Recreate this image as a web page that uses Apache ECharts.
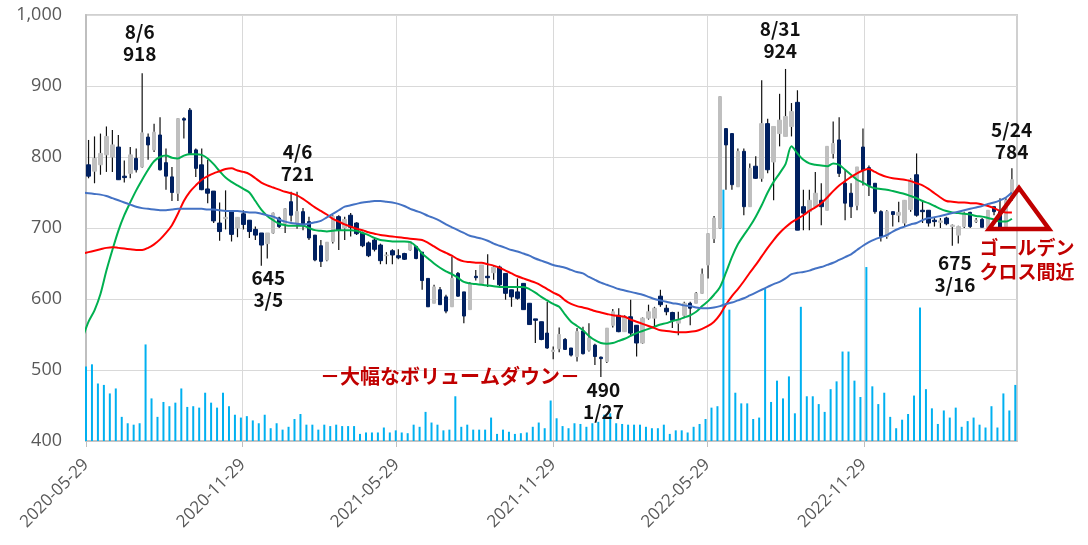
<!DOCTYPE html>
<html><head><meta charset="utf-8">
<script src="https://cdn.jsdelivr.net/npm/echarts@6/dist/echarts.min.js"></script>
<style>html,body{margin:0;padding:0;background:#fff}#c{width:1088px;height:545px}</style>
</head><body><div id="c"></div>
<script>
// ---------- data ----------
const firstCandleMonday = '2020-06-01';   // weekly candles (week start)
const firstVolumeFriday = '2020-05-29';   // weekly volume (week end)
const firstMaMonday = '2020-05-25';       // moving averages (weekly)
const axisStart = '2020-05-29';
const axisEnd = '2023-05-28';
const tickLabels = ['2020-05-29','2020-11-29','2021-05-29','2021-11-29','2022-05-29','2022-11-29'];

const opens = [789,780,789,803,800,814,773,777,798,786, 828,810,831,792,772,749,854,866,810,789,
 755,752,707,713,723,700,720,711,698,693, 678,693,714,706,737,706,723,709,690,675,
 655,681,716,700,718,707,693,679,683,676, 661,668,661,664,669,674,666,629,594,613,
 603,589,636,610,585,632,622,632,637,645, 636,613,610,622,594,572,568,552,526,530,
 543,531,519,555,528,535,518,512,563,577, 554,575,563,538,573,573,604,587,581,566,
 577,594,594,608,648,685,700,840,833,758, 808,730,787,770,847,793,833,829,843,877,
 730,723,730,739,725,805,824,763,749,732, 814,785,763,723,688,723,718,707,726,775,
 725,725,711,708,714,702,690,702,722,709, 712,700,730,723,702,742];
const closes = [773,798,805,829,817,768,771,803,782,834, 817,835,782,773,750,854,852,805,784,754,
 749,710,695,715,691,715,705,695,690,676, 693,721,702,727,718,723,706,686,655,653,
 680,716,697,712,701,692,675,661,670,654, 662,662,658,656,681,657,626,589,617,592,
 583,629,604,576,622,630,648,630,645,620, 608,603,601,585,564,570,543,531,528,550,
 529,521,554,523,545,519,516,559,582,554, 575,552,538,573,582,587,592,582,570,571,
 594,587,608,635,692,714,885,817,761,808, 730,784,770,847,782,843,852,857,864,697,
 721,739,749,730,815,819,777,735,730,786, 781,760,723,688,723,719,722,739,768,718,
 723,707,709,710,706,704,702,721,702,711, 701,725,723,700,739,768];
const lows = [770,763,775,779,779,768,764,770,778,785, 796,807,781,754,738,738,826,804,772,753,
 735,707,682,698,681,687,698,686,683,647, 657,692,700,693,709,699,697,683,653,645,
 653,678,669,683,688,690,673,659,667,649, 649,649,656,655,668,656,613,589,594,592,
 580,589,603,566,585,626,622,617,627,618, 599,589,599,585,564,538,542,530,515,525,
 528,519,512,522,526,507,490,510,560,553, 554,549,519,537,571,561,589,577,559,549,
 575,563,594,607,629,679,699,754,754,758, 718,730,769,765,777,739,815,829,829,697,
 697,697,728,704,725,798,772,711,714,725, 760,745,720,681,685,702,708,702,723,716,
 707,702,702,700,704,675,678,700,700,707, 701,697,718,700,702,738];
const highs = [824,829,833,843,838,831,795,814,812,918, 833,847,856,812,786,855,856,869,812,812,
 796,752,736,753,723,715,725,711,702,693, 693,722,716,728,751,751,728,716,690,683,
 680,718,718,716,721,708,695,681,686,678, 666,670,670,665,681,674,666,629,620,617,
 606,660,638,610,624,641,648,663,647,647, 636,613,629,622,594,572,568,596,533,560,
 545,531,559,561,566,537,519,559,586,587, 577,599,563,574,592,589,613,592,582,582,
 596,596,610,643,693,717,886,840,833,812, 812,791,801,908,854,843,889,924,876,894,
 754,754,779,763,815,850,856,782,763,786, 840,788,763,725,725,723,737,739,770,805,
 739,725,714,714,716,705,703,723,723,714, 714,725,730,742,742,784];

const volumes = [105,108,81,79,67,74,34,25,23,25, 136,60,34,55,49,54,74,48,49,47,
 68,54,47,68,49,37,33,35, 29,25,37,18,25,16,20,31,38,23,
 23,16,23,21,23,21,21,21,10,12, 12,12,19,12,
 15,12,11,23,20,41,26,23,15,16, 63,20,23,16,16,16,33,10,16,13,
 10,11,12,20,26,18, 57,32,21,18,25,24,20,25,27,37,
 39,25,24,23,23,23,20,18,18,23, 10,15,15,12,20,24,
 31,47,49,354,185,68,53,53,31,33, 214,55,85,60,91,39,189,63,63,52,
 41,73,84,126,126,85, 62,245,77,52,68,34,18,30,38,64,
 188,73,46,24,43,33,47,20,28,33, 23,19,49,19,67,43,79];

const maShort = [545,568,584,607,640,669,696,718,736,753, 768,782,794,800,802,799,798,802,804,804,
 803,798,790,780,771,765,760,755,750,738, 726,717,711,706,704,703,703,703,700,697,
 696,695,696,697,697,697,696,693,690,686, 683,682,681,681,681,680,674,664,657,650,
 644,639,635,630,624,622,621,620,619,618, 617,617,617,617,617,614,609,603,598,593,
 589,578,568,562,556,548,542,538,537,538, 541,544,548,552,555,558,561,564,566,569,
 571,574,577,582,590,597,606,617,637,659, 677,690,702,716,732,750,765,777,790,815,
 805,796,791,789,788,787,791,789,782,775, 768,764,759,756,755,754,752,750,748,745,
 742,738,735,731,727,724,722,721,720,719, 717,716,714,712,709,709,713];
const maMid = [664,666,668,670,672,673,672,671,670,669, 669,672,677,684,693,704,720,738,751,760,
 768,773,777,780,783,784,781,779,776,770, 764,760,757,754,751,749,746,741,735,729,
 724,719,713,709,705,702,699,697,694,692, 690,689,688,687,686,685,684,683,679,674,
 669,665,661,656,653,652,651,651,649,647, 644,640,636,632,629,626,623,619,614,609,
 605,598,593,590,588,586,583,581,579,577, 576,575,571,568,565,562,559,556,555,554,
 553,553,554,555,558,562,568,578,592,604, 614,625,637,648,660,672,683,693,701,708,
 713,718,724,729,735,743,752,760,766,772, 777,781,783,779,775,772,770,769,768,766,
 763,760,755,749,743,738,737,736,736,735, 735,733,731,728,724,722,722];
const maLong = [750,749,748,747,745,742,739,736,733,730, 728,727,726,725,725,726,727,727,727,727,
 727,726,726,725,724,724,724,723,722,722, 720,718,716,712,709,707,706,705,706,708,
 710,715,720,725,730,732,734,736,737,738, 738,737,736,734,731,727,724,721,717,714,
 710,705,701,697,693,689,687,685,682,678, 675,672,669,667,664,661,657,654,651,648,
 646,644,641,638,636,631,627,623,620,617, 614,612,610,608,606,603,600,598,596,594,
 593,591,590,588,587,587,588,590,593,595, 598,601,605,609,613,617,621,624,629,635,
 637,638,640,643,645,648,651,655,659,663, 669,675,680,684,687,690,695,699,702,705,
 707,711,714,715,717,719,721,723,725,727, 729,731,734,736,739,743,750];

const annotDates = ['2020-08-06','2021-04-06','2021-03-05','2022-01-27','2022-08-31','2023-03-16','2023-05-24'];
const annotValues = [918,721,645,490,924,675,784];
const annotTexts = ['8/6\n918','4/6\n721','645\n3/5','490\n1/27','8/31\n924','675\n3/16','5/24\n784'];
const noteVolume = '－大幅なボリュームダウン－';
const noteCross = 'ゴールデン\nクロス間近';

// ---------- helpers ----------
function ts(s){const p=s.split('-').map(Number);return new Date(p[0],p[1]-1,p[2]).getTime();}
function weekly(s,count){const p=s.split('-').map(Number);const r=[];for(let i=0;i<count;i++)r.push(new Date(p[0],p[1]-1,p[2]+7*i).getTime());return r;}
function pad(n){return (n<10?'0':'')+n;}
function fmt(v){const d=new Date(v);return d.getFullYear()+'-'+pad(d.getMonth()+1)+'-'+pad(d.getDate());}

const candleT = weekly(firstCandleMonday, opens.length);
const volT = weekly(firstVolumeFriday, volumes.length);
const maT = weekly(firstMaMonday, maShort.length);
const tickT = tickLabels.map(ts);

// label offsets (layout only)
const annotOffsets = [[-5,-30],[-54,-50],[-56,22],[0,24],[-7,-29],[0,28],[-2,-28]];

const JP = '"Noto Sans CJK JP", "Noto Sans", sans-serif';
const AX = '"Open Sans", "Noto Sans", sans-serif';

const chart = echarts.init(document.getElementById('c'), null, {renderer:'canvas'});
chart.setOption({
  animation:false,
  backgroundColor:'#ffffff',
  grid:{left:86,right:71,top:15,bottom:104,show:true,borderColor:'#D0D0D0',borderWidth:2,containLabel:false,outerBoundsMode:'none'},
  xAxis:{
    type:'value', min:ts(axisStart), max:ts(axisEnd), scale:true,
    axisLine:{show:true,lineStyle:{color:'#BFBFBF',width:1.5}},
    axisTick:{show:true,customValues:tickT,length:6,lineStyle:{color:'#BFBFBF'}},
    axisLabel:{customValues:tickT,formatter:fmt,rotate:45,color:'#595959',fontSize:17,fontFamily:AX,margin:21},
    splitLine:{show:true,lineStyle:{color:'#D9D9D9',width:1}}
  },
  yAxis:[
    {type:'value',min:400,max:1000,interval:100,
     axisLine:{show:true,lineStyle:{color:'#BFBFBF',width:2}},axisTick:{show:false},
     axisLabel:{color:'#595959',fontSize:18,fontFamily:AX,margin:24,formatter:v=>v.toLocaleString('en-US')},
     splitLine:{lineStyle:{color:'#D9D9D9',width:1}}},
    {type:'value',min:0,max:600,show:false,splitLine:{show:false}}
  ],
  series:[
    {name:'volume',type:'bar',yAxisIndex:1,data:volT.map((t,i)=>[t,volumes[i]]),barWidth:2,
     itemStyle:{color:'#00B0F0'},clip:false,z:1},
    {name:'wick',type:'custom',data:candleT.map((t,i)=>[t,lows[i],highs[i]]),encode:{x:0,y:[1,2]},z:2,
     renderItem:(params,api)=>{const a=api.coord([api.value(0),api.value(1)]);const b=api.coord([api.value(0),api.value(2)]);
       return {type:'line',shape:{x1:a[0],y1:a[1],x2:b[0],y2:b[1]},style:{stroke:'#111111',lineWidth:1.2}};}},
    {name:'price',type:'candlestick',z:3,barWidth:4,
     data:candleT.map((t,i)=>[t,opens[i],closes[i],Math.min(opens[i],closes[i]),Math.max(opens[i],closes[i])]),
     encode:{x:0,y:[1,2,3,4]},
     itemStyle:{color:'#BFBFBF',color0:'#002060',borderColor:'#BFBFBF',borderColor0:'#002060',borderWidth:1},
     markPoint:{symbol:'circle',symbolSize:0,silent:true,
       label:{show:true,position:'inside',color:'#111111',fontSize:19,fontWeight:'bold',lineHeight:22,fontFamily:JP,align:'center'},
       data:annotDates.map((d,i)=>({coord:[ts(d),annotValues[i]],value:annotValues[i],
         label:{formatter:annotTexts[i],offset:annotOffsets[i]}}))}},
    {name:'MA short',type:'line',data:maT.map((t,i)=>[t,maShort[i]]),showSymbol:false,symbol:'none',smooth:0.3,
     lineStyle:{color:'#00B050',width:2},z:4},
    {name:'MA mid',type:'line',data:maT.map((t,i)=>[t,maMid[i]]),showSymbol:false,symbol:'none',smooth:0.3,
     lineStyle:{color:'#FF0000',width:2},z:4},
    {name:'MA long',type:'line',data:maT.map((t,i)=>[t,maLong[i]]),showSymbol:false,symbol:'none',smooth:0.3,
     lineStyle:{color:'#4472C4',width:2},z:4}
  ],
  graphic:[
    {type:'text',x:450,y:376,z:100,style:{text:noteVolume,fill:'#C00000',fontSize:20,fontWeight:'bold',fontFamily:JP,align:'center',verticalAlign:'middle'}},
    {type:'polygon',z:100,shape:{points:[[989,229],[1019,188],[1049,229]]},style:{fill:'none',stroke:'#C00000',lineWidth:4.5,lineJoin:'miter'}},
    {type:'text',x:1027,y:260,z:100,style:{text:noteCross,fill:'#C00000',fontSize:19,fontWeight:'bold',fontFamily:JP,lineHeight:24,align:'center',verticalAlign:'middle'}}
  ]
});
</script></body></html>
